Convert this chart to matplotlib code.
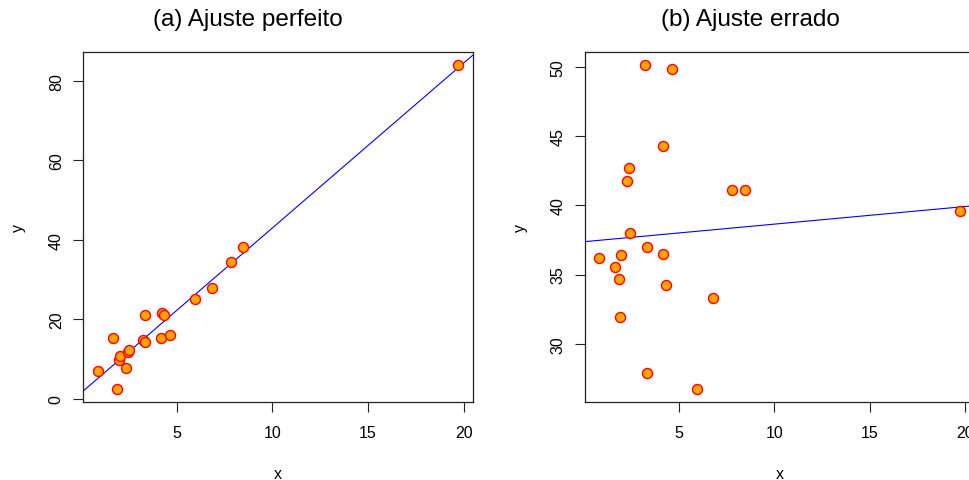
import numpy as np
import matplotlib
matplotlib.use("Agg")
import matplotlib.pyplot as plt

plt.rcParams['font.family'] = ['Liberation Sans', 'DejaVu Sans']

# dados
x = [0.86, 1.68, 1.87, 1.96, 2.00, 2.32, 2.42, 2.47, 3.22, 3.33,
     3.35, 4.17, 4.20, 4.34, 4.66, 5.97, 6.82, 7.82, 8.47, 19.72]
y_perfeito = [7.1, 15.4, 2.4, 9.7, 10.8, 7.8, 11.7, 12.3, 14.8, 21.1,
              14.4, 15.2, 21.6, 21.2, 16.1, 25.0, 28.0, 34.5, 38.1, 83.9]
y_errado = [36.21, 35.53, 34.69, 31.90, 36.40, 41.78, 42.72, 38.04, 50.14, 37.0,
            27.86, 44.33, 36.52, 34.28, 49.86, 26.70, 33.34, 41.1, 41.1, 39.61]

titulos = ["(a) Ajuste perfeito", "(b) Ajuste errado"]
yticks_a = [0, 20, 40, 60, 80]
yticks_b = [30, 35, 40, 45, 50]
xticks = [5, 10, 15, 20]

fig = plt.figure(figsize=(9.7, 4.81), dpi=100)
W, H = 970, 481


def r_lim(v):
    v = np.asarray(v)
    pad = 0.04 * (v.max() - v.min())
    return v.min() - pad, v.max() + pad


def painel(left_px, yvals, yticks, titulo, titulo_px):
    ax = fig.add_axes([left_px / W, (H - 403.3) / H, 389.4 / W, 350 / H])
    ax.scatter(x, yvals, s=52, facecolor="orange", edgecolor="red",
               linewidths=1.0, zorder=3)
    m, b = np.polyfit(x, yvals, 1)
    ax.axline((0, b), slope=m, color="blue", lw=0.8, zorder=2)
    ax.set_xlim(r_lim(x))
    ax.set_ylim(r_lim(yvals))
    ax.set_xticks(xticks)
    ax.set_yticks(yticks)
    ax.tick_params(direction="out", length=7, width=0.8, labelsize=11.5,
                   colors="#222222", labelcolor="black")
    ax.tick_params(axis="x", pad=9)
    ax.tick_params(axis="y", pad=7)
    for lbl in ax.get_yticklabels():
        lbl.set_rotation(90)
        lbl.set_va("center")
    for s in ax.spines.values():
        s.set_linewidth(0.9)
        s.set_color("#222222")
    ax.set_xlabel("x", fontsize=11.5, labelpad=19)
    ax.set_ylabel("y", fontsize=11.5, labelpad=16.5)
    fig.text(titulo_px / W, 1 - 20 / H, titulo, ha="center", va="center",
             fontsize=17.5)
    return ax


painel(83.3, y_perfeito, yticks_a, titulos[0], 247.5)
painel(585.0, y_errado, yticks_b, titulos[1], 750.0)

fig.savefig("out.png", dpi=100)
